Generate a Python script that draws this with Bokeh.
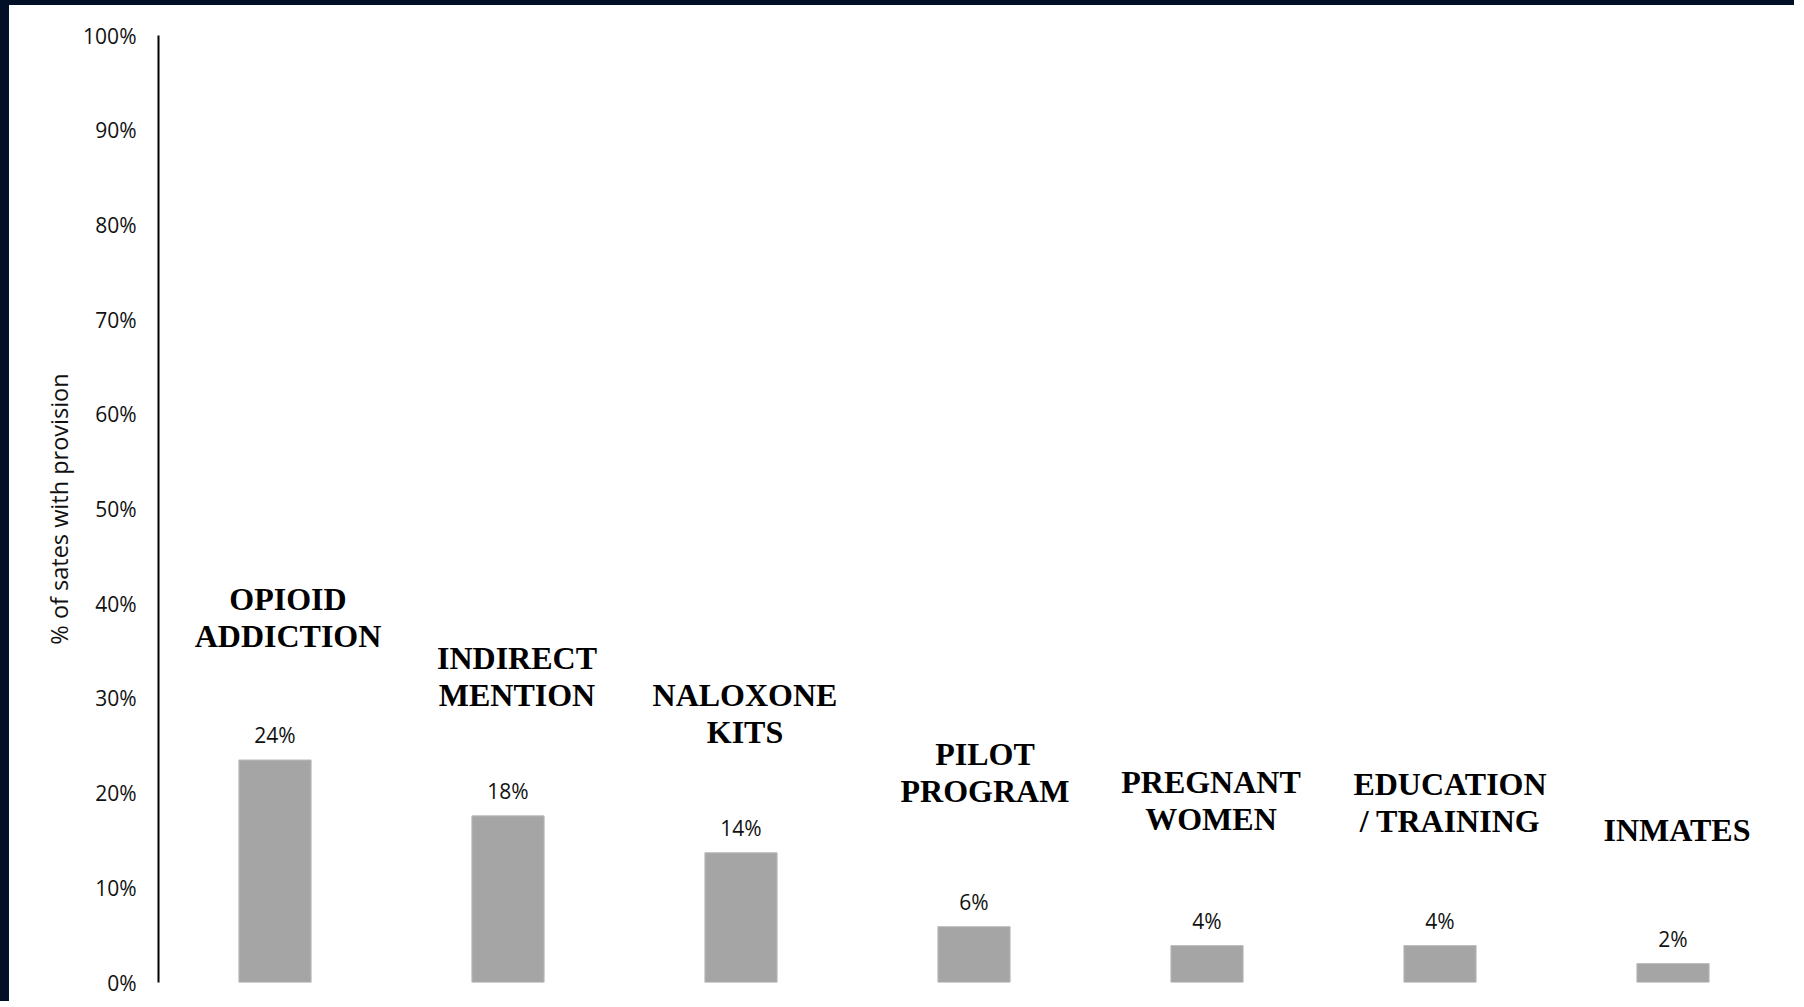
from bokeh.plotting import figure
from bokeh.models import ColumnDataSource, FactorRange, Range1d, FixedTicker, NumeralTickFormatter
from bokeh.core.properties import value
from bokeh.embed import file_html
from bokeh.resources import INLINE

categories = ["OPIOID\nADDICTION", "INDIRECT\nMENTION", "NALOXONE\nKITS", "PILOT\nPROGRAM",
              "PREGNANT\nWOMEN", "EDUCATION\n/ TRAINING", "INMATES"]
shares = [0.235, 0.176, 0.137, 0.059, 0.039, 0.039, 0.020]
value_labels = ["24%", "18%", "14%", "6%", "4%", "4%", "2%"]
y_ticks = [0.0, 0.1, 0.2, 0.3, 0.4, 0.5, 0.6, 0.7, 0.8, 0.9, 1.0]

# screen-pixel nudges of the category captions (style only)
caption_dx = [13, 9, 4, 11, 4, 10, 4]
caption_dy = [-106, -103, -103, -118, -109, -107, -116]

src = ColumnDataSource(dict(cat=categories, share=shares, lab=value_labels,
                            dx=caption_dx, dy=caption_dy))

p = figure(x_range=FactorRange(factors=categories, range_padding=0),
           y_range=Range1d(0, 1),
           width=1794, height=1001, output_backend="svg", toolbar_location=None,
           min_border_left=149, min_border_right=14, min_border_top=30, min_border_bottom=24)

p.styles = {"border-top": "5px solid #011027", "border-left": "9px solid #011027"}

p.background_fill_color = "white"
p.border_fill_color = "white"
p.outline_line_color = None
p.grid.visible = False

p.vbar(x="cat", top="share", width=0.31, source=src,
       fill_color="#A5A5A5", line_color="#BDBDBD", line_width=1)

p.text(x="cat", y="share", text="lab", source=src,
       text_font=value("Open Sans"), text_font_size="21px", text_color="#111111",
       text_align="center", text_baseline="alphabetic", y_offset=-25)

p.text(x="cat", y="share", text="cat", source=src,
       text_font=value("Liberation Serif"), text_font_style="bold", text_font_size="32px",
       text_color="#000000", text_align="center", text_baseline="bottom",
       text_line_height=1.02, x_offset="dx", y_offset="dy")

p.xaxis.visible = False

ya = p.yaxis[0]
ya.ticker = FixedTicker(ticks=y_ticks)
ya.formatter = NumeralTickFormatter(format="0%")
ya.major_tick_line_color = None
ya.minor_tick_line_color = None
ya.major_tick_out = 0
ya.major_tick_in = 0
ya.axis_line_color = "#000000"
ya.axis_line_width = 2
ya.major_label_standoff = 22
ya.major_label_text_font = "Open Sans"
ya.major_label_text_font_size = "21px"
ya.major_label_text_color = "#111111"
ya.axis_label = "% of sates with provision"
ya.axis_label_text_font = "Open Sans"
ya.axis_label_text_font_size = "23.5px"
ya.axis_label_text_font_style = "normal"
ya.axis_label_text_color = "#111111"
ya.axis_label_standoff = 5

open("out.html", "w").write(file_html(p, INLINE))
